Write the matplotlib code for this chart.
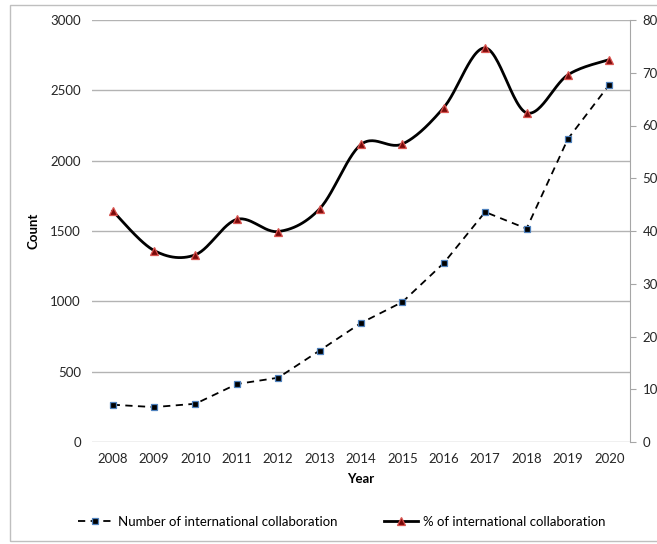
import matplotlib
matplotlib.use('Agg')

import numpy as np
import matplotlib.pyplot as plt
from matplotlib.patches import Rectangle

# Data
years = [2008, 2009, 2010, 2011, 2012, 2013, 2014, 2015, 2016, 2017, 2018, 2019, 2020]
collab_count = [265, 248, 272, 412, 457, 650, 846, 995, 1272, 1635, 1517, 2155, 2540]
collab_pct = [43.8, 36.3, 35.5, 42.2, 39.9, 44.2, 56.4, 56.5, 63.4, 74.7, 62.4, 69.6, 72.5]

plt.rcParams['font.family'] = ['Lato', 'DejaVu Sans']
plt.rcParams['font.size'] = 9.5


def smooth_curve(x, y, n=30):
    """Excel-like smoothed line (Catmull-Rom as cubic Bezier)"""
    x = np.asarray(x, float)
    y = np.asarray(y, float)
    px = np.concatenate([[x[0]], x, [x[-1]]])
    py = np.concatenate([[y[0]], y, [y[-1]]])
    xs, ys = [], []
    t = np.linspace(0, 1, n)
    for i in range(1, len(px) - 2):
        p0 = np.array([px[i], py[i]])
        p3 = np.array([px[i + 1], py[i + 1]])
        c1 = p0 + (np.array([px[i + 1], py[i + 1]]) - np.array([px[i - 1], py[i - 1]])) / 6
        c2 = p3 - (np.array([px[i + 2], py[i + 2]]) - np.array([px[i], py[i]])) / 6
        b = ((1 - t) ** 3)[:, None] * p0 + (3 * (1 - t) ** 2 * t)[:, None] * c1 \
            + (3 * (1 - t) * t ** 2)[:, None] * c2 + (t ** 3)[:, None] * p3
        xs.extend(b[:, 0])
        ys.extend(b[:, 1])
    return xs, ys


fig = plt.figure(figsize=(6.57, 5.44), dpi=100)
# outer chart border like the Excel chart area
fig.patches.append(Rectangle((10 / 657, 3 / 544), 660 / 657, 536 / 544,
                             transform=fig.transFigure, fill=False,
                             edgecolor='#bfbfbf', linewidth=1.0))

ax = fig.add_axes([92 / 657, 102 / 544, 538 / 657, 422 / 544])
ax2 = ax.twinx()

# ===== Left axis: count =====
ax.set_ylim(0, 3000)
ax.set_yticks(np.arange(0, 3001, 500))
ax.set_xlim(2007.5, 2020.5)
ax.set_xticks(years)
ax.set_xticklabels([str(y) for y in years])
ax.grid(True, axis='y', color='#b3b3b3', linewidth=1.0)
ax.set_axisbelow(True)
for side in ['left', 'right', 'top', 'bottom']:
    ax.spines[side].set_visible(False)
ax.tick_params(axis='both', length=0, pad=8, colors='#262626')
ax.set_ylabel('Count', fontweight='bold', labelpad=8)
ax.set_xlabel('Year', fontweight='bold', labelpad=6)

line1, = ax.plot(years, collab_count, linestyle=(0, (4, 3)), color='black', linewidth=1.3,
                 marker='s', markersize=5, markerfacecolor='black',
                 markeredgecolor='#4f81bd', markeredgewidth=0.9, zorder=3,
                 label='Number of international collaboration')

# ===== Right axis: percentage =====
sx, sy = smooth_curve(years, collab_pct)
ax2.plot(sx, sy, color='black', linewidth=2.0, zorder=3)
ax2.plot(years, collab_pct, linestyle='none', marker='^', markersize=6,
         markerfacecolor='#7a0a0a', markeredgecolor='#d9534f', markeredgewidth=0.9, zorder=4)
line2, = ax2.plot([], [], color='black', linewidth=2.0, marker='^', markersize=6,
                  markerfacecolor='#7a0a0a', markeredgecolor='#d9534f', markeredgewidth=0.9,
                  label='% of international collaboration')
ax2.set_ylim(0, 80)
ax2.set_yticks(np.arange(0, 81, 10))
for side in ['left', 'top', 'bottom']:
    ax2.spines[side].set_visible(False)
ax2.spines['right'].set_color('#a6a6a6')
ax2.tick_params(axis='y', length=4, color='#a6a6a6', pad=5, labelcolor='#262626')

fig.legend(handles=[line1, line2], loc='center', bbox_to_anchor=(342 / 657, 1 - 522 / 544),
           ncol=2, frameon=False, columnspacing=3.5, handlelength=2.6, handletextpad=0.4)

plt.savefig('out.png', dpi=100)
plt.close()
